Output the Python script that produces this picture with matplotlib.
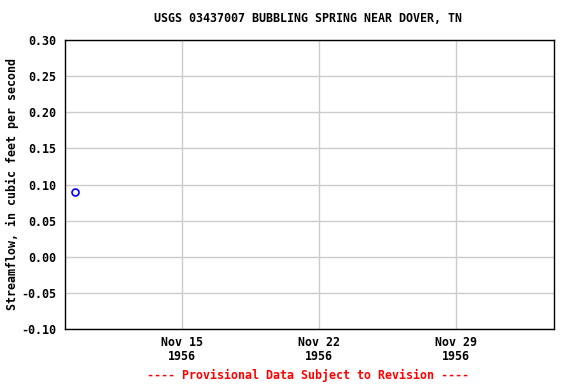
import datetime as dt
import matplotlib
matplotlib.use("Agg")
import matplotlib.pyplot as plt
import matplotlib.dates as mdates

# data
obs_dates = [dt.datetime(1956, 11, 9, 12)]
flow_cfs = [0.09]

x_start = dt.datetime(1956, 11, 9)
x_end = dt.datetime(1956, 12, 4)
tick_dates = [dt.datetime(1956, 11, 15), dt.datetime(1956, 11, 22), dt.datetime(1956, 11, 29)]
y_ticks = [-0.10, -0.05, 0.00, 0.05, 0.10, 0.15, 0.20, 0.25, 0.30]

plt.rcParams['font.family'] = ['DejaVu Sans Mono']
plt.rcParams['font.weight'] = 'bold'
fs = 8.4

fig = plt.figure(figsize=(5.76, 3.84), dpi=100)
ax = fig.add_axes([65 / 576, 55 / 384, 489 / 576, 289 / 384])

ax.plot(obs_dates, flow_cfs, linestyle='none', marker='o', markersize=5,
        markerfacecolor='none', markeredgecolor='blue', markeredgewidth=1.2)

ax.set_xlim(x_start, x_end)
ax.set_ylim(-0.10, 0.30)
ax.set_xticks(tick_dates)
ax.xaxis.set_major_formatter(mdates.DateFormatter('%b %d\n%Y'))
ax.set_yticks(y_ticks)
ax.set_yticklabels(['%.2f' % v for v in y_ticks])
ax.tick_params(axis='y', length=0, labelsize=fs, pad=6)
ax.tick_params(axis='x', length=0, labelsize=fs, pad=5)
for lab in ax.get_xticklabels() + ax.get_yticklabels():
    lab.set_fontweight('bold')
for lab in ax.get_xticklabels():
    lab.set_linespacing(1.1)

ax.grid(True, color='#cccccc', linewidth=1)
ax.set_axisbelow(True)
for s in ax.spines.values():
    s.set_linewidth(1)
    s.set_color('black')

ax.set_ylabel('Streamflow, in cubic feet per second', fontsize=fs, fontweight='bold', labelpad=2)
fig.text(308 / 576, 1 - 19 / 384, 'USGS 03437007 BUBBLING SPRING NEAR DOVER, TN',
         ha='center', va='center', fontsize=fs, fontweight='bold')
fig.text(308 / 576, 1 - 375 / 384, '---- Provisional Data Subject to Revision ----',
         ha='center', va='center', fontsize=fs, fontweight='bold', color='red')

fig.savefig('out.png', dpi=100)
